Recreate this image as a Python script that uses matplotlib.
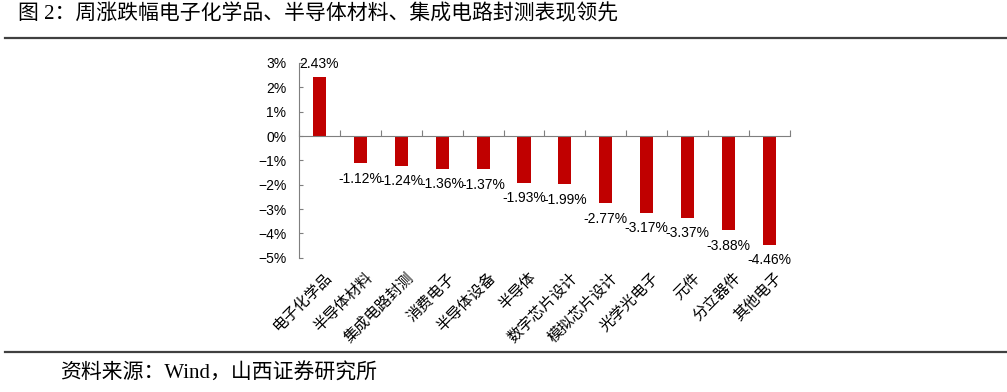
import matplotlib
matplotlib.use("Agg")
import matplotlib.pyplot as plt
from matplotlib.lines import Line2D
from matplotlib.ticker import FixedLocator, PercentFormatter

CATEGORIES = ["电子化学品", "半导体材料", "集成电路封测", "消费电子", "半导体设备", "半导体",
              "数字芯片设计", "模拟芯片设计", "光学光电子", "元件", "分立器件", "其他电子"]
CHANGES = [2.43, -1.12, -1.24, -1.36, -1.37, -1.93, -1.99, -2.77, -3.17, -3.37, -3.88, -4.46]
Y_TICKS = [3, 2, 1, 0, -1, -2, -3, -4, -5]

TITLE = "图 2：周涨跌幅电子化学品、半导体材料、集成电路封测表现领先"
SOURCE = "资料来源：Wind，山西证券研究所"

BAR_RED = "#C00000"
RULE_GRAY = "#404040"
SERIF_CJK = ["Liberation Serif", "Noto Sans CJK SC"]

plt.rcParams["font.family"] = ["Liberation Sans", "Noto Sans CJK SC"]

fig = plt.figure(figsize=(10.07, 3.92), dpi=100)
ax = fig.add_axes([0.2969, 0.3426, 0.4876, 0.4967])

x = range(len(CATEGORIES))
ax.bar(x, CHANGES, width=0.32, color=BAR_RED, zorder=2)

for i, v in enumerate(CHANGES):
    off = 9.5 if v >= 0 else -11
    ax.annotate(f"{v:.2f}%", (i, v), xytext=(0, off), textcoords="offset points",
                ha="center", va="center", fontsize=10, color="black")

ax.set_xlim(-0.5, len(CATEGORIES) - 0.5)
ax.set_ylim(min(Y_TICKS), max(Y_TICKS))
ax.yaxis.set_major_locator(FixedLocator(Y_TICKS))
ax.yaxis.set_major_formatter(PercentFormatter(decimals=0))
ax.tick_params(axis="y", direction="in", length=3, width=0.8, pad=9,
               labelsize=10, colors="#7f7f7f", labelcolor="black")

# category axis sits on the zero line, ticks between categories
ax.spines["bottom"].set_position(("data", 0))
ax.set_xticks([])
ax.set_xticks([i - 0.5 for i in range(len(CATEGORIES) + 1)], minor=True)
ax.tick_params(axis="x", which="minor", direction="in", length=4, width=0.8, colors="#7f7f7f")
for side in ("top", "right"):
    ax.spines[side].set_visible(False)
for side in ("left", "bottom"):
    ax.spines[side].set_color("#7f7f7f")
    ax.spines[side].set_linewidth(0.8)

for i, name in enumerate(CATEGORIES):
    ax.text(i + 0.12, -0.065, name, transform=ax.get_xaxis_transform(),
            rotation=45, rotation_mode="anchor", ha="right", va="top", fontsize=11)

fig.text(0.018, 0.963, TITLE, family=SERIF_CJK, fontsize=15, va="center", ha="left")
fig.text(0.06, 0.048, SOURCE, family=SERIF_CJK, fontsize=15, va="center", ha="left")
fig.add_artist(Line2D([0.005, 1.0], [0.902, 0.902], color=RULE_GRAY, lw=1.6,
                      transform=fig.transFigure))
fig.add_artist(Line2D([0.005, 1.0], [0.102, 0.102], color=RULE_GRAY, lw=1.6,
                      transform=fig.transFigure))

fig.savefig("out.png", dpi=100)
